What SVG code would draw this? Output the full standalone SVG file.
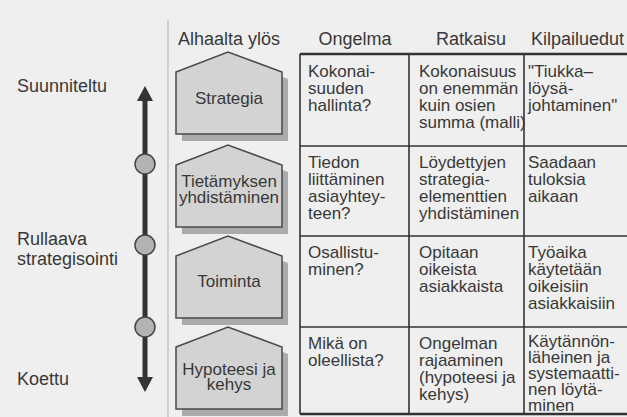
<svg xmlns="http://www.w3.org/2000/svg" width="627" height="417" viewBox="0 0 627 417">
  <style>
    text { font-family: "Liberation Sans", Arial, sans-serif; fill: #383838; }
    .side { font-size: 18px; }
    .head { font-size: 18px; }
    .cell { font-size: 17px; }
    .label { font-size: 17px; text-anchor: middle; }
    .house { fill: #d3d3d3; stroke: #4a4a4a; stroke-width: 1.5; stroke-linejoin: miter; }
    .shadow { fill: #ababab; }
    .grid { stroke: #333; stroke-width: 1.6; fill: none; }
    .rule { stroke: #333; stroke-width: 2.4; }
    .stop { fill: #b3b3b3; stroke: #444; stroke-width: 1.5; }
  </style>
  <defs>
    <path id="house" d="M0,20 L52,0 L106,20 L106,82 L0,82 Z"/>
    <marker id="head" markerUnits="userSpaceOnUse" markerWidth="15" markerHeight="16" viewBox="0 0 15 16" refX="0" refY="8" orient="auto-start-reverse">
      <path d="M0,0 L15,8 L0,16 Z" fill="#333"/>
    </marker>
  </defs>

  <!-- paper -->
  <rect width="627" height="417" fill="#efefef"/>
  <line x1="168" y1="20" x2="168" y2="417" stroke="#bdbdbd" stroke-width="1.2"/>

  <!-- axis labels -->
  <g id="axis-labels">
    <text class="side" x="17" y="92">Suunniteltu</text>
    <text class="side" x="17" y="245">Rullaava</text>
    <text class="side" x="17" y="265">strategisointi</text>
    <text class="side" x="17" y="385">Koettu</text>
  </g>

  <!-- two-way axis -->
  <g id="connectors">
    <line x1="145" y1="101" x2="145" y2="377" stroke="#333" stroke-width="5" marker-start="url(#head)" marker-end="url(#head)"/>
  </g>
  <g id="axis-stops">
    <circle class="stop" cx="145" cy="164" r="10"/>
    <circle class="stop" cx="145" cy="245" r="10"/>
    <circle class="stop" cx="145" cy="327" r="10"/>
  </g>

  <!-- level houses -->
  <text class="head" x="178" y="45">Alhaalta ylös</text>
  <g id="strategia" transform="translate(176,52)">
    <use href="#house" class="shadow" x="6" y="7"/>
    <use href="#house" class="house"/>
    <text class="label" x="53" y="52">Strategia</text>
  </g>
  <g id="tietamyksen-yhdistaminen" transform="translate(176,145)">
    <use href="#house" class="shadow" x="6" y="7"/>
    <use href="#house" class="house"/>
    <text class="label" x="53" y="42">Tietämyksen</text>
    <text class="label" x="53" y="58">yhdistäminen</text>
  </g>
  <g id="toiminta" transform="translate(176,236)">
    <use href="#house" class="shadow" x="6" y="7"/>
    <use href="#house" class="house"/>
    <text class="label" x="53" y="51">Toiminta</text>
  </g>
  <g id="hypoteesi-ja-kehys" transform="translate(176,327)">
    <use href="#house" class="shadow" x="6" y="7"/>
    <use href="#house" class="house"/>
    <text class="label" x="53" y="48">Hypoteesi ja</text>
    <text class="label" x="53" y="63">kehys</text>
  </g>

  <!-- table -->
  <g id="table">
    <text class="head" x="355" y="45" text-anchor="middle">Ongelma</text>
    <text class="head" x="471" y="45" text-anchor="middle">Ratkaisu</text>
    <text class="head" x="531" y="45">Kilpailuedut</text>

    <line class="rule" x1="300" y1="54" x2="627" y2="54"/>
    <line class="rule" x1="300" y1="414" x2="627" y2="414"/>
    <line class="grid" x1="300" y1="146" x2="627" y2="146"/>
    <line class="grid" x1="300" y1="236" x2="627" y2="236"/>
    <line class="grid" x1="300" y1="327" x2="627" y2="327"/>
    <line class="grid" x1="300" y1="54" x2="300" y2="414"/>
    <line class="grid" x1="409" y1="54" x2="409" y2="414"/>
    <line class="grid" x1="524" y1="54" x2="524" y2="414"/>

    <g id="row-strategia" class="cell">
      <text x="308" y="77">Kokonai-</text>
      <text x="308" y="94">suuden</text>
      <text x="308" y="111">hallinta?</text>
      <text x="419" y="77">Kokonaisuus</text>
      <text x="419" y="94">on enemmän</text>
      <text x="419" y="111">kuin osien</text>
      <text x="419" y="128">summa (malli)</text>
      <text x="528" y="77">"Tiukka–</text>
      <text x="528" y="94">löysä-</text>
      <text x="528" y="111">johtaminen"</text>
    </g>
    <g id="row-tietamys" class="cell">
      <text x="308" y="168">Tiedon</text>
      <text x="308" y="185">liittäminen</text>
      <text x="308" y="202">asiayhtey-</text>
      <text x="308" y="219">teen?</text>
      <text x="419" y="168">Löydettyjen</text>
      <text x="419" y="185">strategia-</text>
      <text x="419" y="202">elementtien</text>
      <text x="419" y="219">yhdistäminen</text>
      <text x="528" y="168">Saadaan</text>
      <text x="528" y="185">tuloksia</text>
      <text x="528" y="202">aikaan</text>
    </g>
    <g id="row-toiminta" class="cell">
      <text x="308" y="258">Osallistu-</text>
      <text x="308" y="275">minen?</text>
      <text x="419" y="258">Opitaan</text>
      <text x="419" y="275">oikeista</text>
      <text x="419" y="292">asiakkaista</text>
      <text x="528" y="258">Työaika</text>
      <text x="528" y="275">käytetään</text>
      <text x="528" y="292">oikeisiin</text>
      <text x="528" y="309">asiakkaisiin</text>
    </g>
    <g id="row-hypoteesi" class="cell">
      <text x="308" y="349">Mikä on</text>
      <text x="308" y="366">oleellista?</text>
      <text x="419" y="349">Ongelman</text>
      <text x="419" y="366">rajaaminen</text>
      <text x="419" y="383">(hypoteesi ja</text>
      <text x="419" y="400">kehys)</text>
      <text x="528" y="347">Käytännön-</text>
      <text x="528" y="363">läheinen ja</text>
      <text x="528" y="379">systemaatti-</text>
      <text x="528" y="395">nen löytä-</text>
      <text x="528" y="411">minen</text>
    </g>
  </g>
</svg>
